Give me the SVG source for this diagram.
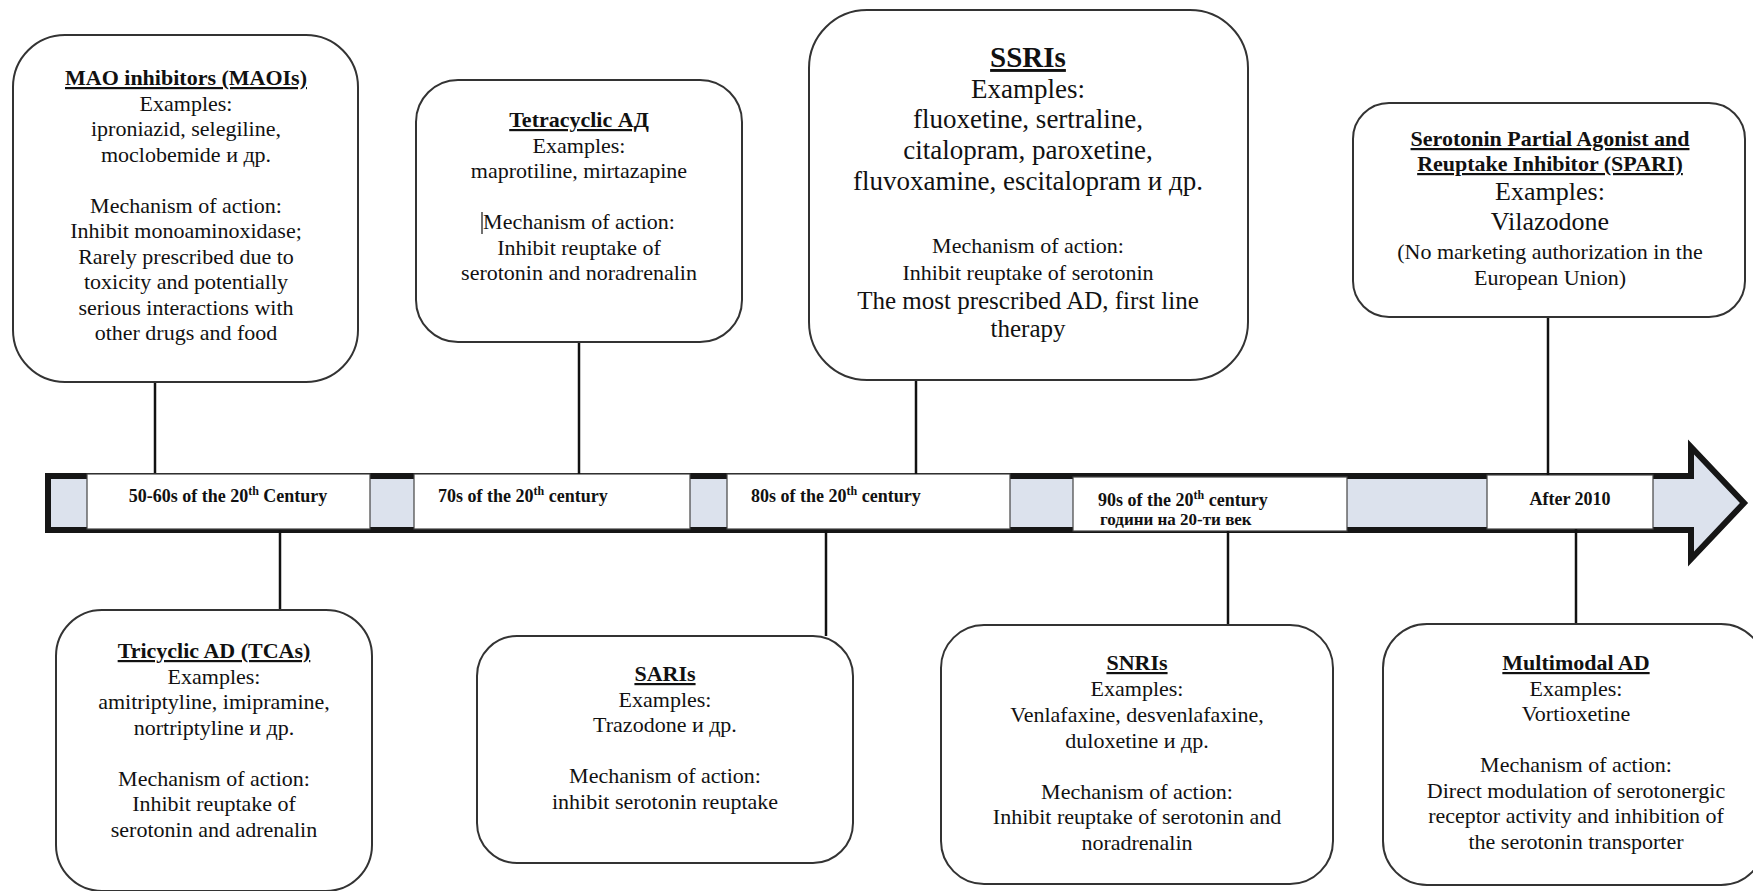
<svg xmlns="http://www.w3.org/2000/svg" width="1753" height="891" viewBox="0 0 1753 891">
  <style>
    .box { fill: #fff; stroke: #333; stroke-width: 2; }
    .lbl { fill: #fff; stroke: #444; stroke-width: 1.2; }
    .t { font-family: 'Liberation Serif', 'DejaVu Serif', serif; font-size: 22px; fill: #111; text-anchor: middle; }
    .h { font-weight: bold; text-decoration: underline; }
    .bt { font-family: 'Liberation Serif', 'DejaVu Serif', serif; font-size: 18px; font-weight: bold; fill: #111; }
    .sup { font-size: 12px; }
    #connectors line { stroke: #111; stroke-width: 2.5; }
  </style>

  <rect width="1753" height="891" fill="#fff"/>

  <!-- timeline arrow -->
  <g id="timeline">
    <polygon points="48,476 1691,476 1691,447 1744,503 1691,559 1691,530 48,530" fill="#dce2ed" stroke="#161616" stroke-width="6" stroke-linejoin="miter"/>
    <rect class="lbl" x="87" y="474" width="283" height="55"/>
    <rect class="lbl" x="414" y="474" width="276" height="55"/>
    <rect class="lbl" x="727" y="474" width="283" height="55"/>
    <rect class="lbl" x="1073" y="477" width="274" height="54"/>
    <rect class="lbl" x="1487" y="475" width="166" height="54"/>
    <text class="bt" x="228" y="502" text-anchor="middle">50-60s of the 20<tspan class="sup" dy="-7">th</tspan><tspan dy="7"> Century</tspan></text>
    <text class="bt" x="438" y="502">70s of the 20<tspan class="sup" dy="-7">th</tspan><tspan dy="7"> century</tspan></text>
    <text class="bt" x="751" y="502">80s of the 20<tspan class="sup" dy="-7">th</tspan><tspan dy="7"> century</tspan></text>
    <text class="bt" x="1098" y="506">90s of the 20<tspan class="sup" dy="-7">th</tspan><tspan dy="7"> century</tspan></text>
    <text class="bt" x="1100" y="525" style="font-size:17px">години на 20-ти век</text>
    <text class="bt" x="1570" y="505" text-anchor="middle">After 2010</text>
  </g>

  <!-- connectors between boxes and the timeline -->
  <g id="connectors">
    <line x1="155" y1="382" x2="155" y2="473"/>
    <line x1="579" y1="342" x2="579" y2="474"/>
    <line x1="916" y1="380" x2="916" y2="474"/>
    <line x1="1548" y1="317" x2="1548" y2="475"/>
    <line x1="280" y1="530" x2="280" y2="610"/>
    <line x1="826" y1="530" x2="826" y2="636"/>
    <line x1="1228" y1="531" x2="1228" y2="625"/>
    <line x1="1576" y1="529" x2="1576" y2="624"/>
  </g>

  <!-- upper row -->
  <g id="maoi">
    <rect class="box" x="13" y="35" width="345" height="347" rx="52"/>
    <text class="t" x="186" y="85"><tspan class="h">MAO inhibitors (MAOIs)</tspan><tspan x="186" dy="25.5">Examples:</tspan><tspan x="186" dy="25.5">iproniazid, selegiline,</tspan><tspan x="186" dy="25.5">moclobemide  и др.</tspan><tspan x="186" dy="51">Mechanism of action:</tspan><tspan x="186" dy="25.5">Inhibit monoaminoxidase;</tspan><tspan x="186" dy="25.5">Rarely prescribed due to</tspan><tspan x="186" dy="25.5">toxicity and potentially</tspan><tspan x="186" dy="25.5">serious interactions with</tspan><tspan x="186" dy="25.5">other drugs and food</tspan></text>
  </g>

  <g id="tetracyclic">
    <rect class="box" x="416" y="80" width="326" height="262" rx="42"/>
    <line x1="482" y1="212" x2="482" y2="234" stroke="#111" stroke-width="1.2"/>
    <text class="t" x="579" y="127"><tspan class="h">Tetracyclic АД</tspan><tspan x="579" dy="25.5">Examples:</tspan><tspan x="579" dy="25.5">maprotiline, mirtazapine</tspan><tspan x="579" dy="51">Mechanism of action:</tspan><tspan x="579" dy="25.5">Inhibit reuptake of</tspan><tspan x="579" dy="25.5">serotonin and noradrenalin</tspan></text>
  </g>

  <g id="ssri">
    <rect class="box" x="809" y="10" width="439" height="370" rx="58"/>
    <text class="t" x="1028" y="67"><tspan class="h" style="font-size:29px">SSRIs</tspan><tspan x="1028" dy="30.5" style="font-size:27px">Examples:</tspan><tspan x="1028" dy="30.5" style="font-size:27px">fluoxetine, sertraline,</tspan><tspan x="1028" dy="31" style="font-size:27px">citalopram, paroxetine,</tspan><tspan x="1028" dy="31" style="font-size:27px">fluvoxamine, escitalopram и др.</tspan><tspan x="1028" dy="63">Mechanism of action:</tspan><tspan x="1028" dy="27">Inhibit reuptake of serotonin</tspan><tspan x="1028" dy="29" style="font-size:25px">The most prescribed AD, first line</tspan><tspan x="1028" dy="28" style="font-size:25px">therapy</tspan></text>
  </g>

  <g id="spari">
    <rect class="box" x="1353" y="103" width="392" height="214" rx="36"/>
    <text class="t" x="1550" y="146"><tspan class="h">Serotonin Partial Agonist and</tspan><tspan x="1550" dy="25" class="h">Reuptake Inhibitor (SPARI)</tspan><tspan x="1550" dy="29" style="font-size:26px">Examples:</tspan><tspan x="1550" dy="30" style="font-size:26px">Vilazodone</tspan><tspan x="1550" dy="28.5">(No marketing authorization in the</tspan><tspan x="1550" dy="26.5">European Union)</tspan></text>
  </g>

  <!-- lower row -->
  <g id="tca">
    <rect class="box" x="56" y="610" width="316" height="281" rx="46"/>
    <text class="t" x="214" y="658"><tspan class="h">Tricyclic AD (TCAs)</tspan><tspan x="214" dy="25.5">Examples:</tspan><tspan x="214" dy="25.5">amitriptyline, imipramine,</tspan><tspan x="214" dy="25.5">nortriptyline и др.</tspan><tspan x="214" dy="51">Mechanism of action:</tspan><tspan x="214" dy="25.5">Inhibit reuptake of</tspan><tspan x="214" dy="25.5">serotonin and adrenalin</tspan></text>
  </g>

  <g id="sari">
    <rect class="box" x="477" y="636" width="376" height="227" rx="40"/>
    <text class="t" x="665" y="681"><tspan class="h">SARIs</tspan><tspan x="665" dy="25.5">Examples:</tspan><tspan x="665" dy="25.5">Trazodone и др.</tspan><tspan x="665" dy="51">Mechanism of action:</tspan><tspan x="665" dy="25.5">inhibit serotonin reuptake</tspan></text>
  </g>

  <g id="snri">
    <rect class="box" x="941" y="625" width="392" height="259" rx="43"/>
    <text class="t" x="1137" y="670"><tspan class="h">SNRIs</tspan><tspan x="1137" dy="26">Examples:</tspan><tspan x="1137" dy="26">Venlafaxine, desvenlafaxine,</tspan><tspan x="1137" dy="25.5">duloxetine и др.</tspan><tspan x="1137" dy="51">Mechanism of action:</tspan><tspan x="1137" dy="25.5">Inhibit reuptake of serotonin and</tspan><tspan x="1137" dy="26">noradrenalin</tspan></text>
  </g>

  <g id="multimodal">
    <rect class="box" x="1383" y="624" width="382" height="261" rx="44"/>
    <text class="t" x="1576" y="670"><tspan class="h">Multimodal AD</tspan><tspan x="1576" dy="25.5">Examples:</tspan><tspan x="1576" dy="25.5">Vortioxetine</tspan><tspan x="1576" dy="51">Mechanism of action:</tspan><tspan x="1576" dy="25.5">Direct modulation of serotonergic</tspan><tspan x="1576" dy="25.5">receptor activity and inhibition of</tspan><tspan x="1576" dy="25.5">the serotonin transporter</tspan></text>
  </g>
</svg>
